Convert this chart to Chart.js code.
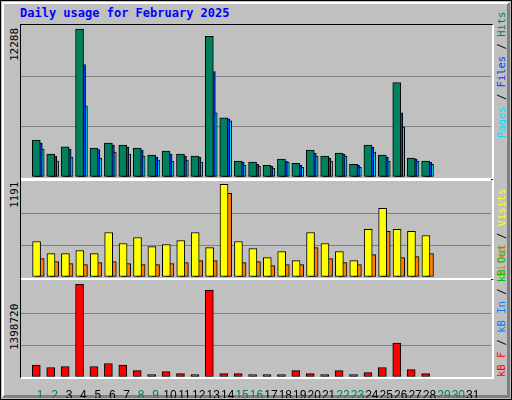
<!DOCTYPE html>
<html><head><meta charset="utf-8">
<script src="https://cdn.jsdelivr.net/npm/chart.js@4"></script>
<style>
html,body{margin:0;padding:0;background:#fff}
#frame{position:absolute;left:0;top:0;width:510px;height:398px;border:1px solid #000;background:#c0c0c0}
#bev{position:absolute;left:1px;top:1px;width:503px;height:391px;border-top:2px solid #fff;border-left:2px solid #fff;border-right:3px solid #808080;border-bottom:3px solid #808080}
.t{position:absolute;font-family:"DejaVu Sans Mono",monospace;white-space:nowrap}
#title{left:20px;top:6px;font-size:12px;font-weight:bold;color:#0000ff}
.panel{position:absolute;left:20px;width:471px;border-top:1px solid #000;border-left:1px solid #000;border-right:2px solid #fff;border-bottom:2px solid #fff}
canvas{position:absolute}
.yl{font-size:11px;color:#000;transform-origin:left top;transform:rotate(-90deg);line-height:13px}
.rl{font-size:10.5px;transform-origin:left top;transform:rotate(-90deg);line-height:13px}
</style></head><body>
<div id="frame"><div id="bev"></div></div>
<div class="t" id="title">Daily usage for February 2025</div>
<div class="panel" style="top:24px;height:153px"></div>
<div class="panel" style="top:179px;height:98px"></div>
<div class="panel" style="top:279px;height:97px"></div>
<div style="position:absolute;left:21px;top:179px;width:470px;height:2px;background:#fff"></div>
<div style="position:absolute;left:21px;top:278px;width:470px;height:2px;background:#fff"></div>
<canvas id="c1" style="left:21px;top:26px;width:470px;height:151px"></canvas>
<canvas id="c2" style="left:21px;top:181px;width:470px;height:96px"></canvas>
<canvas id="c3" style="left:21px;top:281px;width:470px;height:117px"></canvas>
<div class="t yl" style="left:8px;top:61px">12288</div>
<div class="t yl" style="left:8px;top:208px">1191</div>
<div class="t yl" style="left:8px;top:350px">1398720</div>
<div class="t rl" style="left:495px;top:138px"><span style="color:#00e0ff">Pages</span> / <span style="color:#0040ff">Files</span> / <span style="color:#00805c">Hits</span></div>
<div class="t rl" style="left:495px;top:277px"><span style="color:#ff8000">Sites</span> / <span style="color:#ffff00">Visits</span></div>
<div class="t rl" style="left:495px;top:377px"><span style="color:#ff0000">kB F</span> / <span style="color:#0080ff">kB In</span> / <span style="color:#00c000">kB Out</span></div>
<script>
const days=[1,2,3,4,5,6,7,8,9,10,11,12,13,14,15,16,17,18,19,20,21,22,23,24,25,26,27,28];
const dayLabels=[1,2,3,4,5,6,7,8,9,10,11,12,13,14,15,16,17,18,19,20,21,22,23,24,25,26,27,28,29,30,31];
const weekendDays=[1,2,8,9,15,16,22,23,29,30];
const hits=[3068,1897,2508,12288,2399,2817,2650,2399,1814,2148,1897,1730,11679,4907,1312,1229,978,1480,1145,2232,1730,1981,1062,2650,1814,7833,1563,1312];
const files=[2817,1730,2316,9338,2282,2650,2483,2232,1647,1898,1730,1647,8753,4824,1229,1062,895,1312,978,1981,1563,1897,978,2483,1647,5325,1480,1229];
const pages=[2316,1312,1647,5911,1563,2065,1898,1730,1396,1312,1396,1229,5325,4657,978,895,727,1229,811,1730,1312,1730,811,2065,1312,4155,1312,1062];
const visits=[456,301,301,340,301,572,430,507,391,417,469,572,378,1191,456,366,249,327,211,572,430,327,211,611,882,611,585,533];
const sites=[237,198,172,159,185,198,172,159,159,172,185,211,211,1075,185,198,146,159,159,378,237,185,159,288,585,249,262,301];
const kbytes=[178700,143000,158300,1398720,158300,204200,178700,97000,35700,81700,51000,35700,1307000,51000,51000,35700,35700,35700,97000,51000,35700,97000,35700,66400,143000,510600,112300,51000];

const XMIN=0.195,XMAX=31.74;
function ds(vals,off,color){return{data:days.map((d,i)=>({x:d+off,y:vals[i]})),backgroundColor:color,borderColor:'#000',borderWidth:1,barThickness:8,grouped:false,borderSkipped:false};}
function gridCol(c){return (c.index===0||c.index===3)?'rgba(0,0,0,0)':'#808080';}
function make(id,sets,max,showX){
  const xs={type:'linear',min:XMIN,max:XMAX,display:showX,grid:{display:false},border:{display:false},
       ticks:{stepSize:1,includeBounds:false,autoSkip:false,maxRotation:0,padding:3,
         font:{family:'Liberation Sans',size:12},
         callback:v=>dayLabels.includes(v)?String(v):'',
         color:c=>weekendDays.includes(c.tick.value)?'#00805c':'#000'}};
  if(showX) xs.afterFit=s=>{s.height=21;};
  new Chart(document.getElementById(id),{type:'bar',data:{datasets:sets},
  options:{responsive:false,animation:false,events:[],layout:{padding:0},
   plugins:{legend:{display:false},tooltip:{enabled:false}},
   scales:{
    x:xs,
    y:{min:0,max:max,display:true,ticks:{display:false,stepSize:max/3},border:{display:false},
       afterFit:s=>{s.width=0;},
       grid:{color:gridCol,lineWidth:1,drawTicks:false}}
   }}});
}
function sizeCanvas(id,w,h){const c=document.getElementById(id);c.width=w;c.height=h;}
sizeCanvas('c1',470,151);sizeCanvas('c2',470,96);sizeCanvas('c3',470,117);
make('c1',[ds(hits,-0.27,'#00805c'),ds(files,-0.13,'#0040ff'),ds(pages,0,'#00e0ff')],12537,false);
make('c2',[ds(visits,-0.25,'#ffff00'),ds(sites,0,'#ff8000')],1233,false);
make('c3',[ds(kbytes,-0.27,'#ff0000')],1449000,true);
</script>
</body></html>
